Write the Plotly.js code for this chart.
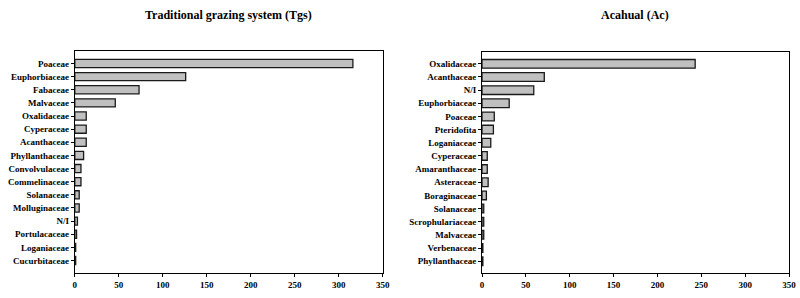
<!DOCTYPE html>
<html>
<head>
<meta charset="utf-8">
<script src="https://cdn.plot.ly/plotly-3.0.1.min.js"></script>
<style>html,body{margin:0;padding:0;background:#fff;}#chart{width:800px;height:298px;}</style>
</head>
<body>
<div id="chart"></div>
<script>
// Traditional grazing system (Tgs)
const tgsFamilies = ["Poaceae","Euphorbiaceae","Fabaceae","Malvaceae","Oxalidaceae","Cyperaceae","Acanthaceae","Phyllanthaceae","Convolvulaceae","Commelinaceae","Solanaceae","Molluginaceae","N/I","Portulacaceae","Loganiaceae","Cucurbitaceae"];
const tgsValues   = [316,126,73,46,13,13,13,10,7,7,5,5,3,2,1,1];
// Acahual (Ac)
const acFamilies = ["Oxalidaceae","Acanthaceae","N/I","Euphorbiaceae","Poaceae","Pteridofita","Loganiaceae","Cyperaceae","Amaranthaceae","Asteraceae","Boraginaceae","Solanaceae","Scrophulariaceae","Malvaceae","Verbenaceae","Phyllanthaceae"];
const acValues   = [243,71,59,31,14,13,10,6,6,7,5,2,2,2,1,1];
const xTicks = [0,50,100,150,200,250,300,350];
const titles = ["Traditional grazing system (Tgs)","Acahual (Ac)"];

const FONT = "Liberation Serif, Times New Roman, serif";
const barStyle = {color:"#c0c0c0", line:{color:"#1a1a1a", width:1.3}};

const traces = [
  {type:"bar", orientation:"h", x:tgsValues, y:tgsFamilies, xaxis:"x", yaxis:"y", marker:barStyle, width:0.62, hoverinfo:"x+y"},
  {type:"bar", orientation:"h", x:acValues, y:acFamilies, xaxis:"x2", yaxis:"y2", marker:barStyle, width:0.66, hoverinfo:"x+y"}
];

function xax(domain, anchor){
  return {domain:domain, anchor:anchor, range:[0,350], tickvals:xTicks, ticks:"outside", ticklen:3, tickwidth:1,
    tickcolor:"#000", showline:true, linecolor:"#000", linewidth:1, mirror:true, showgrid:false, zeroline:false,
    tickfont:{family:FONT, size:9, color:"#000", weight:"bold"}, fixedrange:true};
}
function yax(domain, range, anchor){
  return {domain:domain, anchor:anchor, type:"category", autorange:false, range:range,
    ticks:"outside", ticklen:3, tickwidth:1, tickcolor:"#000", showline:true, linecolor:"#000", linewidth:1,
    mirror:true, showgrid:false, zeroline:false,
    tickfont:{family:FONT, size:9, color:"#000", weight:"bold"}, fixedrange:true};
}

const layout = {
  width:800, height:298,
  margin:{l:0, r:0, t:0, b:0},
  paper_bgcolor:"#fff", plot_bgcolor:"#fff",
  showlegend:false,
  xaxis: xax([0.0935,0.4785], "y"),
  yaxis: yax([0.0839,0.8289], [tgsFamilies.length - 1 + 0.95, -0.95], "x"),
  xaxis2: xax([0.6025,0.9863], "y2"),
  yaxis2: yax([0.0839,0.8255], [acFamilies.length - 1 + 0.9, -0.9], "x2"),
  annotations:[
    {text:titles[0], xref:"paper", yref:"paper", x:0.286, y:0.95, xanchor:"center", yanchor:"middle", showarrow:false,
     font:{family:FONT, size:12, color:"#000", weight:"bold"}},
    {text:titles[1], xref:"paper", yref:"paper", x:0.794, y:0.95, xanchor:"center", yanchor:"middle", showarrow:false,
     font:{family:FONT, size:12, color:"#000", weight:"bold"}}
  ]
};

Plotly.newPlot("chart", traces, layout, {displayModeBar:false, staticPlot:true});
</script>
</body>
</html>
